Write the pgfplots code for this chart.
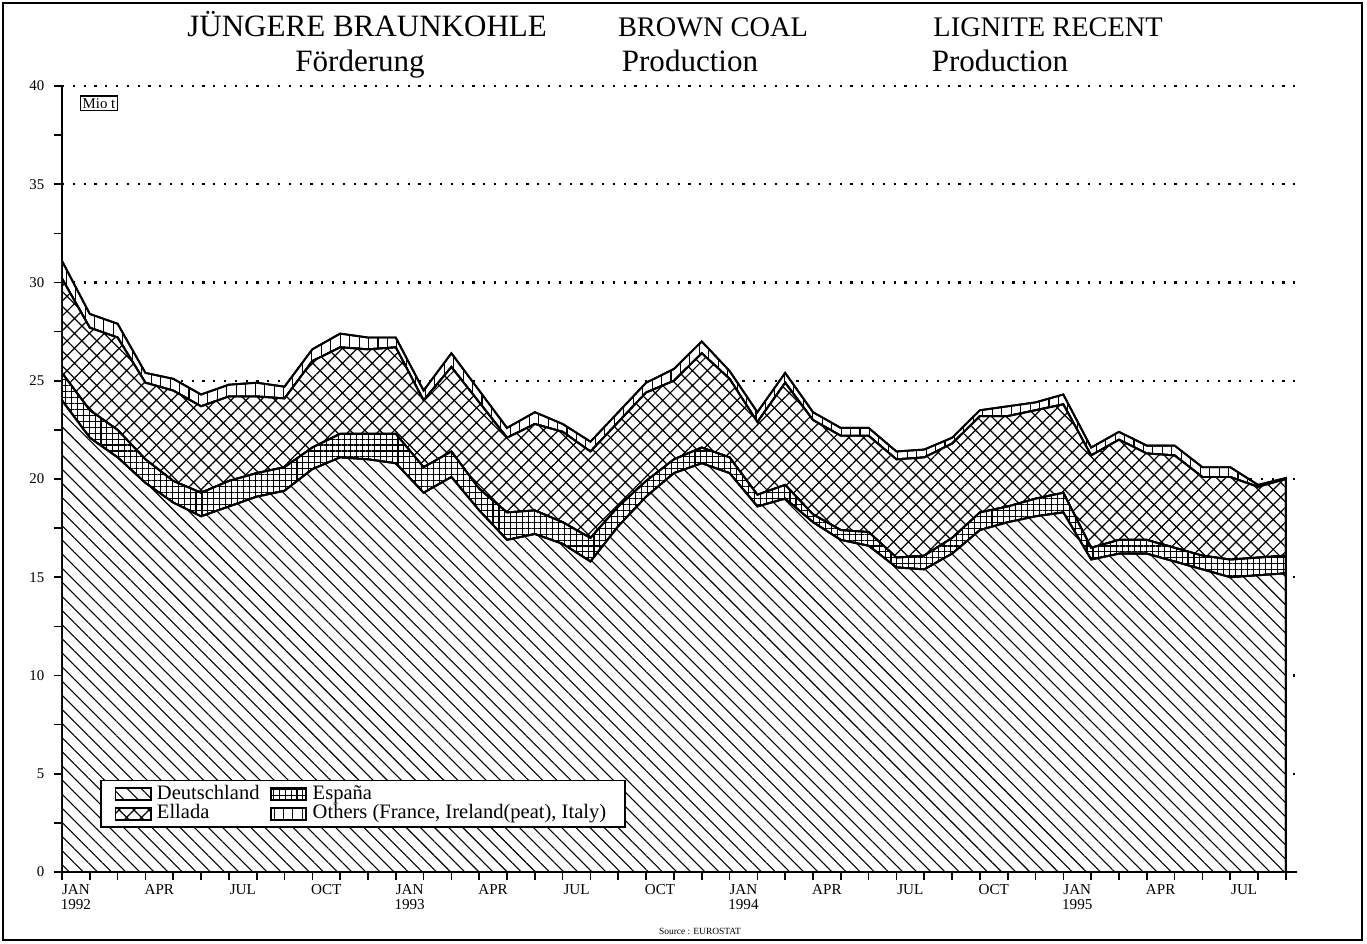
\documentclass[border=0pt]{standalone}
\usepackage{fontspec}
\setmainfont{Liberation Serif}
\usepackage{pgfplots}
\usepackage{pgfplotstable}
\pgfplotsset{compat=1.18}
\usetikzlibrary{patterns,patterns.meta}

\pgfplotstableread{
i D S G O
0 24.0 1.4 4.8 0.9
1 22.1 1.4 4.2 0.7
2 21.1 1.4 4.7 0.7
3 19.8 1.2 3.9 0.5
4 18.8 1.1 4.6 0.6
5 18.1 1.2 4.4 0.6
6 18.6 1.3 4.3 0.6
7 19.1 1.2 3.9 0.7
8 19.4 1.2 3.5 0.6
9 20.5 1.1 4.4 0.6
10 21.1 1.2 4.4 0.7
11 21.0 1.3 4.3 0.6
12 20.8 1.5 4.4 0.5
13 19.3 1.3 3.4 0.5
14 20.1 1.3 4.3 0.7
15 18.4 1.1 4.4 0.6
16 16.9 1.4 3.8 0.5
17 17.2 1.2 4.4 0.6
18 16.7 1.1 4.6 0.4
19 15.8 1.2 4.4 0.5
20 17.6 1.0 4.3 0.5
21 19.1 0.8 4.5 0.5
22 20.3 0.7 4.0 0.6
23 20.8 0.8 4.8 0.6
24 20.3 0.8 4.0 0.4
25 18.6 0.6 3.7 0.5
26 19.0 0.7 5.2 0.5
27 17.8 0.4 4.8 0.4
28 16.9 0.5 4.8 0.4
29 16.6 0.7 4.9 0.4
30 15.5 0.5 5.0 0.4
31 15.4 0.7 5.0 0.4
32 16.2 0.8 4.8 0.3
33 17.4 0.9 4.9 0.3
34 17.8 0.8 4.6 0.5
35 18.1 0.9 4.5 0.4
36 18.3 1.0 4.5 0.5
37 15.9 0.6 4.7 0.4
38 16.2 0.7 5.1 0.4
39 16.2 0.7 4.4 0.4
40 15.8 0.7 4.7 0.5
41 15.4 0.7 4.0 0.5
42 15.0 0.9 4.2 0.5
43 15.1 0.9 3.6 0.1
44 15.2 0.9 3.9 0.05
}\datatable

\begin{document}
\begin{tikzpicture}
\useasboundingbox (-22.96pt,-26.67pt) rectangle (483.33pt,322.96pt);
\draw[line width=0.8pt] (-21.85pt,-25.19pt) rectangle (481.5pt,321.85pt);
\begin{axis}[
  at={(0,0)}, anchor=origin,
  scale only axis, width=457.4pt, height=291.1pt,
  xmin=0, xmax=44.4, ymin=0, ymax=40,
  axis x line=bottom, axis y line=left,
  axis line style={-, line width=0.8pt},
  xtick={0,...,44}, xticklabels={},
  extra x ticks={0.5,3.5,6.5,9.5,12.5,15.5,18.5,21.5,24.5,27.5,30.5,33.5,36.5,39.5,42.5},
  extra x tick labels={JAN\\1992,APR,JUL,OCT,JAN\\1993,APR,JUL,OCT,JAN\\1994,APR,JUL,OCT,JAN\\1995,APR,JUL},
  extra x tick style={major tick length=0pt, tick label style={align=center, font=\fontsize{5.6}{5.8}\selectfont, yshift=-1pt}},
  ytick={0,5,...,40}, minor ytick={2.5,7.5,...,37.5},
  tick align=outside, major tick length=3pt, minor tick length=3pt,
  tick style={black, line width=0.6pt},
  yticklabel style={font=\fontsize{5.5}{6}\selectfont},
  /pgf/number format/assume math mode=true,
  ymajorgrids,
  grid style={black, line width=0.8pt, dash pattern=on 0.8pt off 3.2pt},
  stack plots=y,
  legend style={at={(0.031,0.056)}, anchor=south west, draw=black, line width=0.6pt,
    font=\fontsize{7.6}{8}\selectfont, row sep=0.3pt, inner xsep=5pt, inner ysep=1.5pt,
    nodes={inner ysep=0.3pt, text height=5.1pt, text depth=1.3pt},
    /tikz/every even column/.append style={column sep=2pt}},
  legend columns=2, legend cell align=left,
  legend image code/.code={\draw[#1] (0pt,-2.2pt) rectangle (13pt,2.2pt);},
]
\addplot[draw=black, line width=0.7pt, fill=white, postaction={pattern={Lines[angle=-45,distance=3.7pt,line width=0.4pt]}}] table[x=i,y=D]{\datatable} \closedcycle;
\addlegendentry{Deutschland}
\addplot[draw=black, line width=0.7pt, fill=white, postaction={pattern={Hatch[angle=0,distance=2.2pt,line width=0.4pt]}}] table[x=i,y=S]{\datatable} \closedcycle;
\addlegendentry{España}
\addplot[draw=black, line width=0.7pt, fill=white, postaction={pattern={Hatch[angle=45,distance=3.9pt,line width=0.45pt]}}] table[x=i,y=G]{\datatable} \closedcycle;
\addlegendentry{Ellada}
\addplot[draw=black, line width=0.7pt, fill=white, postaction={pattern={Lines[angle=90,distance=3.5pt,line width=0.4pt]}}] table[x=i,y=O]{\datatable} \closedcycle;
\addlegendentry{Others (France, Ireland(peat), Italy)}
\node[draw, line width=0.5pt, inner sep=0.8pt, font=\fontsize{5.5}{6}\selectfont] at (axis description cs:0.03,0.978) {Mio t};
\end{axis}
\node[anchor=base, font=\fontsize{11.5}{12}\selectfont] at (113pt,309.3pt) {JÜNGERE BRAUNKOHLE};
\node[anchor=base, font=\fontsize{10.5}{12}\selectfont] at (241.1pt,309.3pt) {BROWN COAL};
\node[anchor=base, font=\fontsize{10.5}{12}\selectfont] at (365.2pt,309.3pt) {LIGNITE RECENT};
\node[anchor=base, font=\fontsize{11.5}{12}\selectfont] at (110.4pt,296.3pt) {Förderung};
\node[anchor=base, font=\fontsize{11.5}{12}\selectfont] at (232.6pt,296.3pt) {Production};
\node[anchor=base, font=\fontsize{11.5}{12}\selectfont] at (347.4pt,296.3pt) {Production};
\node[font=\fontsize{3.5}{4}\selectfont] at (236.3pt,-22.2pt) {Source : EUROSTAT};
\end{tikzpicture}
\end{document}
